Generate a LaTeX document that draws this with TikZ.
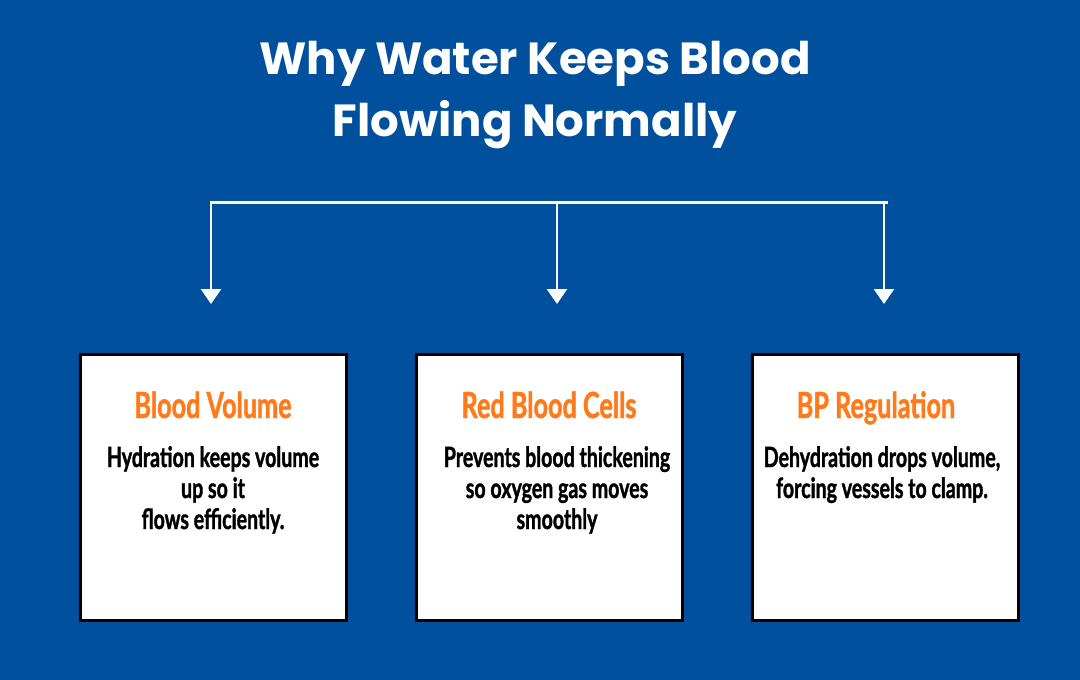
\documentclass[tikz,border=0pt]{standalone}
\usepackage{fontspec}
\setmainfont{Poppins}
\newfontfamily\condfont[FakeStretch=0.7, FakeBold=1.2]{Lato}
\usetikzlibrary{arrows.meta}
\definecolor{bgblue}{RGB}{0,80,158}
\definecolor{headorange}{RGB}{255,122,26}
\tikzset{
  card/.style={draw=black, line width=3pt, fill=white, minimum width=266pt, minimum height=266pt, inner sep=0pt},
  cardhead/.style={text=headorange, font=\condfont\bfseries\fontsize{36}{40}\selectfont, inner sep=0pt, anchor=base},
  cardbody/.style={text=black, font=\condfont\bfseries\fontsize{28}{31}\selectfont, align=center, inner sep=0pt, anchor=north},
  conn/.style={draw=white, line width=3pt},
  arr/.style={draw=white, line width=2.5pt, -{Triangle[width=20pt,length=15pt]}},
}
\begin{document}
\begin{tikzpicture}[x=1pt,y=-1pt]
\fill[bgblue] (0,0) rectangle (1080,680);
\useasboundingbox (0,0) rectangle (1080,680);
\node[text=white, font=\bfseries\fontsize{45}{62}\selectfont, align=center, anchor=north, inner sep=0pt] (title) at (535,41) {Why Water Keeps Blood\\Flowing Normally};
\node[card] (b1) at (213,487) {};
\node[card] (b2) at (549,487) {};
\node[card] (b3) at (885,487) {};
\coordinate (j1) at (211,202);
\coordinate (j2) at (557,202);
\coordinate (j3) at (886,202);
\coordinate (t1) at (211,304);
\coordinate (t2) at (557,304);
\coordinate (t3) at (884,304);
\draw[conn, line cap=rect] (j1) -- (j3);
\draw[arr] (j1) -- (t1);
\draw[arr] (j2) -- (t2);
\draw[arr] ([xshift=-2pt]j3) -- (t3);
\node[cardhead] (h1) at (213,418) {Blood Volume};
\node[cardhead] (h2) at (549,418) {Red Blood Cells};
\node[cardhead] (h3) at (876,418) {BP Regulation};
\node[cardbody] (d1) at (213,446) {Hydration keeps volume\\up so it\\flows efficiently.};
\node[cardbody] (d2) at (557,446) {Prevents blood thickening\\so oxygen gas moves\\smoothly};
\node[cardbody] (d3) at (882,446) {Dehydration drops volume,\\forcing vessels to clamp.};
\end{tikzpicture}
\end{document}
